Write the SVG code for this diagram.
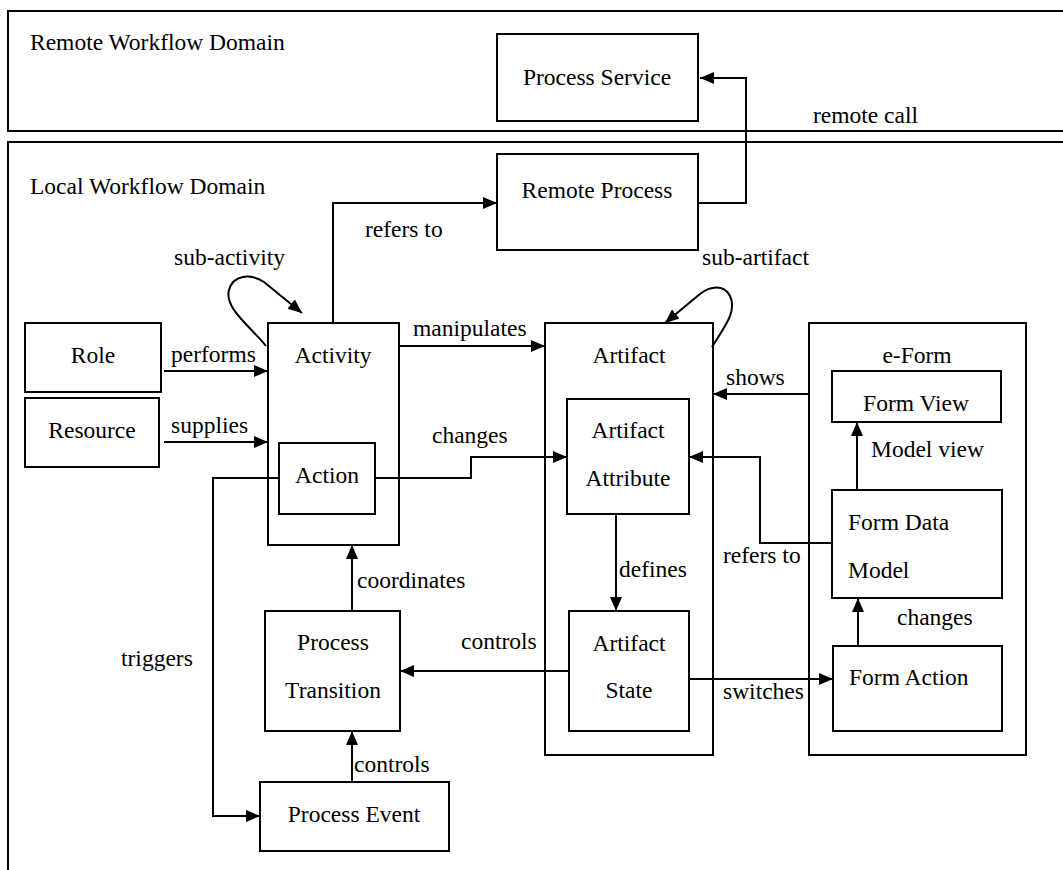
<svg xmlns="http://www.w3.org/2000/svg" width="1063" height="870" viewBox="0 0 1063 870">
  <style>
    text { font-family: "Liberation Serif", "Times New Roman", serif; font-size: 23.5px; fill: #000; }
    .box { fill: #fff; stroke: #000; stroke-width: 2; }
    .frame { fill: none; stroke: #000; stroke-width: 2; }
    .mid { text-anchor: middle; }
    .edge { fill: none; stroke: #000; stroke-width: 2; marker-end: url(#arrow); }
  </style>
  <defs>
    <marker id="arrow" viewBox="0 0 14 12" refX="14" refY="6" markerWidth="14" markerHeight="12" markerUnits="userSpaceOnUse" orient="auto">
      <path d="M0,0 L14,6 L0,12 z" fill="#000"/>
    </marker>
  </defs>
  <rect width="1063" height="870" fill="#fff"/>

  <!-- domains -->
  <g id="remote-domain">
    <rect class="frame" x="8" y="11" width="1070" height="120"/>
    <text x="30" y="50">Remote Workflow Domain</text>
  </g>
  <g id="local-domain">
    <rect class="frame" x="8" y="142" width="1070" height="750"/>
    <text x="30" y="194">Local Workflow Domain</text>
  </g>

  <!-- nodes -->
  <g id="process-service">
    <rect class="box" x="497" y="34" width="201" height="87"/>
    <text class="mid" x="597" y="85">Process Service</text>
  </g>
  <g id="remote-process">
    <rect class="box" x="497" y="154" width="201" height="96"/>
    <text class="mid" x="597" y="198">Remote Process</text>
  </g>
  <g id="role">
    <rect class="box" x="25" y="323" width="136" height="69"/>
    <text class="mid" x="93" y="363">Role</text>
  </g>
  <g id="resource">
    <rect class="box" x="25" y="398" width="134" height="69"/>
    <text class="mid" x="92" y="438">Resource</text>
  </g>
  <g id="activity">
    <rect class="box" x="268" y="323" width="131" height="222"/>
    <text class="mid" x="333" y="363">Activity</text>
  </g>
  <g id="action">
    <rect class="box" x="279" y="443" width="96" height="71"/>
    <text class="mid" x="327" y="483">Action</text>
  </g>
  <g id="process-transition">
    <rect class="box" x="265" y="611" width="135" height="120"/>
    <text class="mid" x="333" y="650">Process</text>
    <text class="mid" x="333" y="698">Transition</text>
  </g>
  <g id="process-event">
    <rect class="box" x="260" y="782" width="189" height="69"/>
    <text class="mid" x="354" y="822">Process Event</text>
  </g>
  <g id="artifact">
    <rect class="box" x="545" y="323" width="168" height="432"/>
    <text class="mid" x="629" y="363">Artifact</text>
  </g>
  <g id="artifact-attribute">
    <rect class="box" x="567" y="399" width="122" height="115"/>
    <text class="mid" x="628" y="438">Artifact</text>
    <text class="mid" x="628" y="486">Attribute</text>
  </g>
  <g id="artifact-state">
    <rect class="box" x="569" y="611" width="120" height="120"/>
    <text class="mid" x="629" y="651">Artifact</text>
    <text class="mid" x="629" y="698">State</text>
  </g>
  <g id="e-form">
    <rect class="box" x="809" y="323" width="217" height="432"/>
    <text class="mid" x="917" y="363">e-Form</text>
  </g>
  <g id="form-view">
    <rect class="box" x="832" y="371" width="169" height="51"/>
    <text class="mid" x="916" y="411">Form View</text>
  </g>
  <g id="form-data-model">
    <rect class="box" x="832" y="490" width="170" height="108"/>
    <text x="848" y="530">Form Data</text>
    <text x="848" y="578">Model</text>
  </g>
  <g id="form-action">
    <rect class="box" x="833" y="646" width="169" height="85"/>
    <text x="849" y="685">Form Action</text>
  </g>

  <!-- connectors -->
  <g id="connectors">
    <path class="edge" d="M698,203 H746 V78 H700"/>
    <path class="edge" d="M333,323 V203 H497"/>
    <path class="edge" d="M266,346 C250,326 224,308 229,290 C233,275 250,273 264,282 L302,313"/>
    <path class="edge" d="M712,347 C722,330 738,312 730,296 C724,284 710,286 700,294 L665,323"/>
    <path class="edge" d="M164,371 H268"/>
    <path class="edge" d="M164,442 H268"/>
    <path class="edge" d="M399,346 H545"/>
    <path class="edge" d="M375,478 H471 V457 H567"/>
    <path class="edge" d="M279,478 H213 V816 H260"/>
    <path class="edge" d="M352,611 V545"/>
    <path class="edge" d="M352,782 V731"/>
    <path class="edge" d="M569,671 H400"/>
    <path class="edge" d="M616,514 V611"/>
    <path class="edge" d="M809,394 H713"/>
    <path class="edge" d="M832,543 H760 V457 H689"/>
    <path class="edge" d="M857,490 V422"/>
    <path class="edge" d="M858,646 V598"/>
    <path class="edge" d="M689,679 H833"/>

    <text x="813" y="123">remote call</text>
    <text x="365" y="237">refers to</text>
    <text x="174" y="265">sub-activity</text>
    <text x="702" y="265">sub-artifact</text>
    <text x="171" y="362">performs</text>
    <text x="171" y="433">supplies</text>
    <text x="413" y="336">manipulates</text>
    <text x="432" y="443">changes</text>
    <text x="121" y="666">triggers</text>
    <text x="357" y="588">coordinates</text>
    <text x="354" y="772">controls</text>
    <text x="461" y="649">controls</text>
    <text x="619" y="577">defines</text>
    <text x="726" y="385">shows</text>
    <text x="723" y="563">refers to</text>
    <text x="871" y="457">Model view</text>
    <text x="897" y="625">changes</text>
    <text x="723" y="699">switches</text>
  </g>
</svg>
